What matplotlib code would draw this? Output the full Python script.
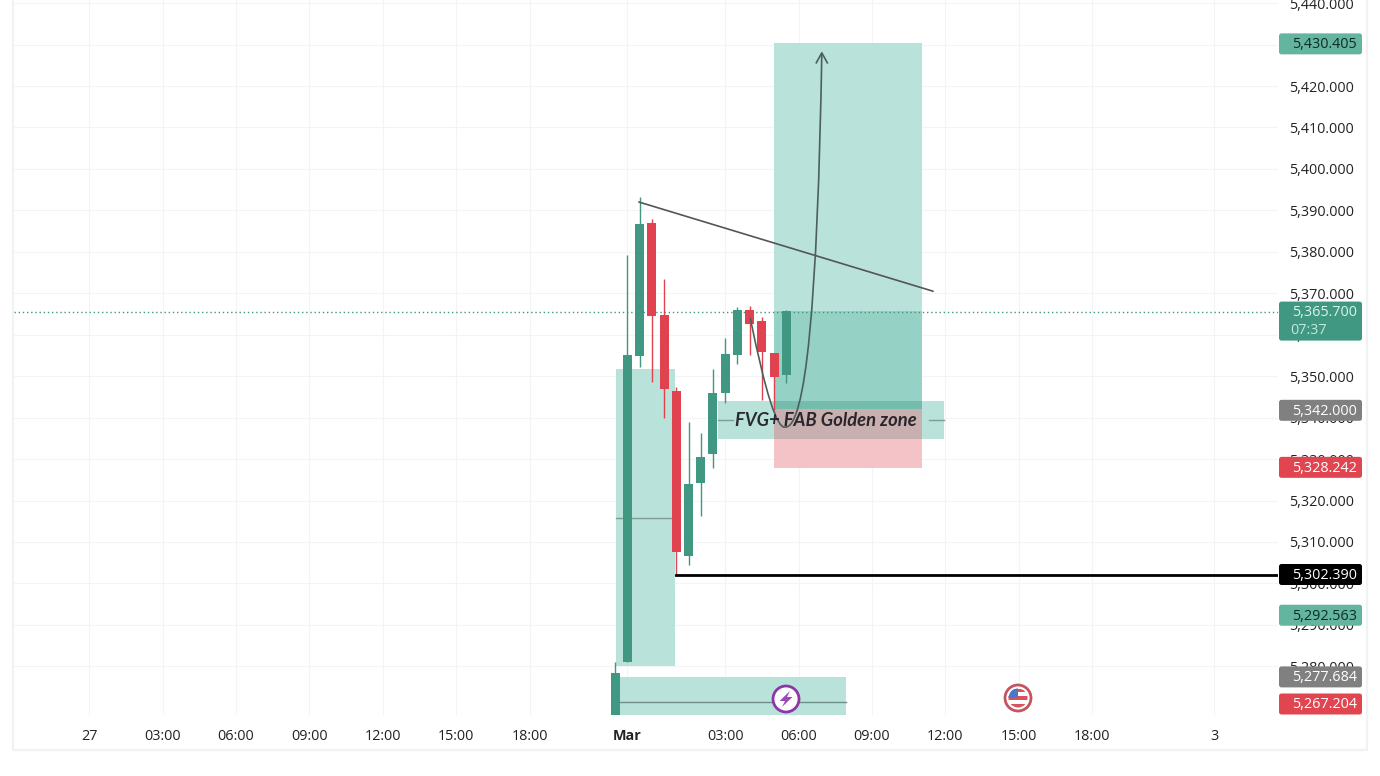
import matplotlib
matplotlib.use('Agg')
import matplotlib.pyplot as plt
from matplotlib.patches import FancyBboxPatch, Rectangle, Circle, PathPatch, Polygon
from matplotlib.path import Path
from matplotlib.transforms import IdentityTransform

plt.rcParams['font.family'] = ['Open Sans', 'DejaVu Sans']

# candles, bar 0 is the first bar of March
bars = list(range(-1, 14))
opens = [5262.0, 5281.0, 5354.9, 5386.9, 5364.8, 5346.4, 5306.6, 5324.2, 5331.2, 5345.9, 5355.1, 5366.0, 5363.3, 5355.6, 5350.3]
highs = [5281.0, 5379.2, 5393.2, 5387.9, 5373.4, 5347.4, 5338.9, 5336.3, 5351.7, 5359.2, 5366.7, 5366.9, 5364.3, 5355.6, 5366.0]
lows = [5258.0, 5281.0, 5352.2, 5348.6, 5339.9, 5302.0, 5304.4, 5316.3, 5327.8, 5343.5, 5352.9, 5355.1, 5344.2, 5341.8, 5348.3]
closes = [5278.4, 5355.1, 5386.7, 5364.5, 5346.9, 5307.6, 5324.0, 5330.5, 5345.9, 5355.3, 5366.0, 5362.6, 5355.8, 5349.8, 5365.7]

time_ticks = [-44, -38, -32, -26, -20, -14, -8, 0, 8, 14, 20, 26, 32, 38, 48]
time_labels = ['27', '03:00', '06:00', '09:00', '12:00', '15:00', '18:00', 'Mar',
               '03:00', '06:00', '09:00', '12:00', '15:00', '18:00', '3']
price_ticks = list(range(5280, 5450, 10))

# price tags on the right scale
tag_prices = [5430.405, 5342.0, 5328.242, 5302.39, 5292.563, 5277.684, 5267.204]
tag_colors = ['#64b5a0', '#808080', '#e04550', '#000000', '#64b5a0', '#808080', '#e04550']
tag_text = ['#0c2c26', '#ffffff', '#ffffff', '#ffffff', '#0c2c26', '#ffffff', '#ffffff']
last_price = 5365.7
countdown = '07:37'
black_line = 5302.0

# zones: left bar, right bar, low, high
target_zone = (12, 24.1, 5342.0, 5430.405)
stop_zone = (12, 24.1, 5327.9, 5342.0)
fvg_zone = (7.41, 25.9, 5334.8, 5343.9)
left_zone = (-0.92, 3.9, 5280.0, 5351.7)
bottom_zone = (-0.6, 17.88, 5262.0, 5277.5)

trend_bars = [0.96, 24.98]
trend_prices = [5392.0, 5370.5]

GREEN = '#409782'
RED = '#e0434f'
ZONE = '#b9e2da'

fig = plt.figure(figsize=(13.8, 7.76), dpi=100)
W, H = 1380, 776
ax = fig.add_axes([14 / W, 1 - 715 / H, (1278 - 14) / W, 715 / H])
ax.set_xlim(-50.15, 53.2)
ax.set_ylim(5268.25, 5440.75)
for s in ax.spines.values():
    s.set_visible(False)

ax.set_xticks(time_ticks)
ax.set_xticklabels(time_labels, fontsize=10.4, color='#222222')
ax.get_xticklabels()[7].set_fontweight('bold')
ax.yaxis.tick_right()
ax.set_yticks(price_ticks)
ax.set_yticklabels([f'{p:,}.000' for p in price_ticks], fontsize=10.4, color='#222222')
ax.tick_params(axis='x', length=0, pad=10)
ax.tick_params(axis='y', length=0, pad=8)
ax.grid(True, color='#f2f4f7', lw=0.8)
ax.set_axisbelow(True)


def zone(z, color, order=1):
    ax.add_patch(Rectangle((z[0], z[2]), z[1] - z[0], z[3] - z[2], fc=color, ec='none', zorder=order))


zone(left_zone, ZONE)
zone(bottom_zone, ZONE)
zone(fvg_zone, ZONE)
zone(target_zone, ZONE, 1.1)
zone((target_zone[0], target_zone[1], target_zone[2], last_price), '#95d1c4', 1.2)
zone(stop_zone, '#f4c3c7', 1.3)
# where the golden zone lies over the target and the stop
zone((target_zone[0], target_zone[1], target_zone[2], fvg_zone[3]), '#74bcab', 1.4)
zone((stop_zone[0], stop_zone[1], fvg_zone[2], stop_zone[3]), '#c8b0b1', 1.4)

# zone mid lines
ax.plot([left_zone[0], left_zone[1]], [5315.7, 5315.7], color='#7f9c96', lw=1, zorder=1.5)
ax.plot([bottom_zone[0], bottom_zone[1]], [5271.4, 5271.4], color='#6f8f88', lw=1, zorder=1.5)
ax.plot([fvg_zone[0], 8.6], [5339.4, 5339.4], color='#7f9c96', lw=1, zorder=1.5)
ax.plot([24.7, fvg_zone[1]], [5339.4, 5339.4], color='#7f9c96', lw=1, zorder=1.5)

# candles
for b, o, h, l, c in zip(bars, opens, highs, lows, closes):
    col = GREEN if c >= o else RED
    ax.plot([b, b], [l, h], color=col, lw=1, zorder=3, solid_capstyle='butt')
    ax.add_patch(Rectangle((b - 0.37, min(o, c)), 0.74, abs(c - o), fc=col, ec='none', zorder=3.1))

ax.axhline(last_price - 0.3, color=GREEN, lw=1, ls=(0, (1, 2)), zorder=2.5)
ax.plot([3.98, 53.2], [black_line, black_line], color='black', lw=2, zorder=4)
ax.plot(trend_bars, trend_prices, color='#555555', lw=1.2, zorder=4)

# projected move, two curve pieces from the pullback up to the target
curve_bars = [10.05, 11.9, 12.9, 15.4, 15.9]
curve_prices = [5364.0, 5337.0, 5337.7, 5337.2, 5428.0]
codes = [Path.MOVETO, Path.CURVE3, Path.CURVE3, Path.CURVE3, Path.CURVE3]
ax.add_patch(PathPatch(Path(list(zip(curve_bars, curve_prices)), codes), fc='none', ec='#4c5f5b', lw=1.2, zorder=4))
ax.plot([15.45, 15.9, 16.35], [5425.6, 5428.0, 5425.6], color='#4c5f5b', lw=1.2, zorder=4)

ax.text(16.2, 5339.2, 'FVG+ FAB Golden zone', fontsize=13.2, fontstyle='italic', fontweight='bold',
        family=['Lato', 'DejaVu Sans'], color='#16121a', alpha=0.88, ha='center', va='center', zorder=5)


def tag(y, h, color):
    # y, h in image pixels from the top
    p = FancyBboxPatch((1281, H - y - h / 2 + 2), 79, h - 4, boxstyle='round,pad=2,rounding_size=2.5',
                       fc=color, ec='none', transform=IdentityTransform(), zorder=6)
    fig.add_artist(p)


fig.canvas.draw()
for p, col, tc in zip(tag_prices, tag_colors, tag_text):
    # the lowest tag is pushed up so that it stays on the scale
    y = min(H - ax.transData.transform((0, p))[1] + 1, 704)
    tag(y, 21, col)
    fig.text(1357 / W, 1 - (y + 1) / H, f'{p:,.3f}', fontsize=10.4, color=tc, ha='right', va='center', zorder=7)

ylast = H - ax.transData.transform((0, last_price))[1]
tag(ylast + 10, 39, GREEN)
fig.text(1357 / W, 1 - (ylast + 1) / H, f'{last_price:,.3f}', fontsize=10.4, color='#d9f5ec', ha='right', va='center', zorder=7)
fig.text(1290 / W, 1 - (ylast + 19) / H, countdown, fontsize=10.4, color='#bfeadd', ha='left', va='center', zorder=7)

# event marks on the time scale
fig.add_artist(Circle((786, H - 699), 13, fc='white', ec='#8e35a8', lw=2, transform=IdentityTransform(), zorder=6))
bolt_x = [790, 779.5, 785, 782, 792.5, 787]
bolt_y = [691, 701, 701, 707, 697, 697]
fig.add_artist(Polygon([(x, H - y) for x, y in zip(bolt_x, bolt_y)], fc='#9a4ab8', ec='none',
                       transform=IdentityTransform(), zorder=7))

fig.add_artist(Circle((1018, H - 698), 13, fc='white', ec='#c4555f', lw=2, transform=IdentityTransform(), zorder=5.9))
clip = Circle((1018, H - 698), 9.5, transform=IdentityTransform())
for i in range(5):
    st = Rectangle((1008, H - 688.5 - (i + 1) * 3.8), 20, 3.8, fc='#d9535d' if i % 2 == 0 else 'white',
                   ec='none', transform=IdentityTransform(), zorder=6)
    fig.add_artist(st)
    st.set_clip_path(clip)
canton = Rectangle((1008, H - 698), 10, 10, fc='#4a78c8', ec='none', transform=IdentityTransform(), zorder=6.1)
fig.add_artist(canton)
canton.set_clip_path(clip)

# chart frame
fx = [13, 13, 1367, 1367]
fy = [0, 750, 750, 0]
fig.add_artist(plt.Line2D(fx, [H - v for v in fy], color='#f0f2f4', lw=1.6, transform=IdentityTransform(), zorder=0.5))

fig.savefig('out.png', dpi=100)
